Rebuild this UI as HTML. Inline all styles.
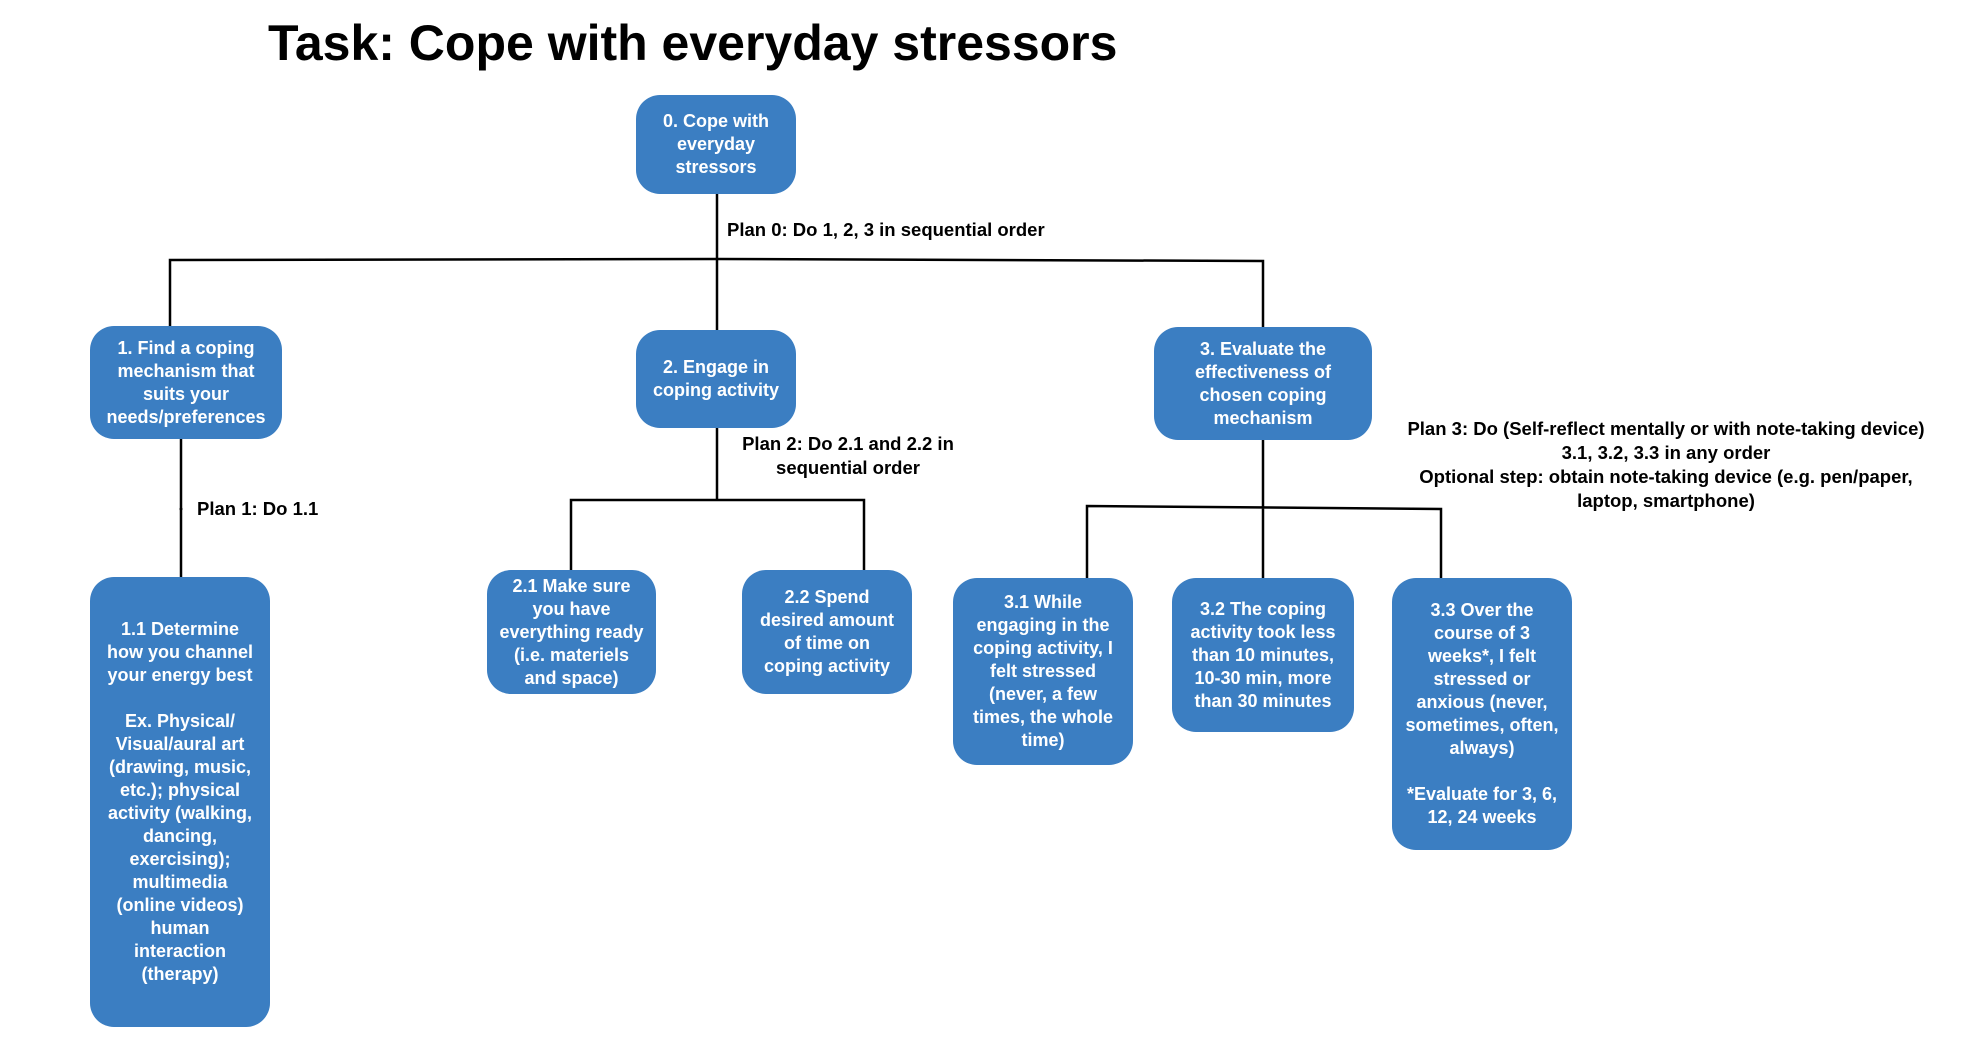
<!DOCTYPE html>
<html><head><meta charset="utf-8"><style>
body{margin:0;width:1968px;height:1056px;background:#fff;position:relative;overflow:hidden;font-family:"Liberation Sans",sans-serif;font-weight:bold}
.b{position:absolute;background:#3b7ec2;border-radius:24px;color:#fff;font-size:18px;line-height:23px;text-align:center;display:flex;align-items:center;justify-content:center;white-space:nowrap}
.t{position:absolute;font-size:18.5px;line-height:24px;color:#000;white-space:nowrap}
</style></head><body>
<svg width="1968" height="1056" style="position:absolute;left:0;top:0">
<g stroke="#000" stroke-width="2.5" fill="none">
<path d="M717 194V330"/>
<path d="M170 326V260L717 259L1263 261V327"/>
<path d="M181 439V577"/>
<path d="M717 428V500M571 570V500H864V570"/>
<path d="M1263 440V578M1087 578V506L1441 509V578"/>
</g>
<circle cx="181" cy="509" r="1.5" fill="#000"/>
</svg>
<div class="t" style="left:268px;top:14px;font-size:50px;line-height:58px">Task: Cope with everyday stressors</div>
<div class="b" style="left:636px;top:95px;width:160px;height:99px">0. Cope with<br>everyday<br>stressors</div>
<div class="t" style="left:727px;top:218px">Plan 0: Do 1, 2, 3 in sequential order</div>
<div class="b" style="left:90px;top:326px;width:192px;height:113px">1. Find a coping<br>mechanism that<br>suits your<br>needs/preferences</div>
<div class="b" style="left:636px;top:330px;width:160px;height:98px">2. Engage in<br>coping activity</div>
<div class="b" style="left:1154px;top:327px;width:218px;height:113px">3. Evaluate the<br>effectiveness of<br>chosen coping<br>mechanism</div>
<div class="t" style="left:197px;top:497px">Plan 1: Do 1.1</div>
<div class="t" style="left:708px;top:432px;text-align:center;width:280px">Plan 2: Do 2.1 and 2.2 in<br>sequential order</div>
<div class="t" style="left:1366px;top:417px;text-align:center;width:600px">Plan 3: Do (Self-reflect mentally or with note-taking device)<br>3.1, 3.2, 3.3 in any order<br>Optional step: obtain note-taking device (e.g. pen/paper,<br>laptop, smartphone)</div>
<div class="b" style="left:90px;top:577px;width:180px;height:450px">1.1 Determine<br>how you channel<br>your energy best<br><br>Ex. Physical/<br>Visual/aural art<br>(drawing, music,<br>etc.); physical<br>activity (walking,<br>dancing,<br>exercising);<br>multimedia<br>(online videos)<br>human<br>interaction<br>(therapy)</div>
<div class="b" style="left:487px;top:570px;width:169px;height:124px">2.1 Make sure<br>you have<br>everything ready<br>(i.e. materiels<br>and space)</div>
<div class="b" style="left:742px;top:570px;width:170px;height:124px">2.2 Spend<br>desired amount<br>of time on<br>coping activity</div>
<div class="b" style="left:953px;top:578px;width:180px;height:187px">3.1 While<br>engaging in the<br>coping activity, I<br>felt stressed<br>(never, a few<br>times, the whole<br>time)</div>
<div class="b" style="left:1172px;top:578px;width:182px;height:154px">3.2 The coping<br>activity took less<br>than 10 minutes,<br>10-30 min, more<br>than 30 minutes</div>
<div class="b" style="left:1392px;top:578px;width:180px;height:272px">3.3 Over the<br>course of 3<br>weeks*, I felt<br>stressed or<br>anxious (never,<br>sometimes, often,<br>always)<br><br>*Evaluate for 3, 6,<br>12, 24 weeks</div>
</body></html>
